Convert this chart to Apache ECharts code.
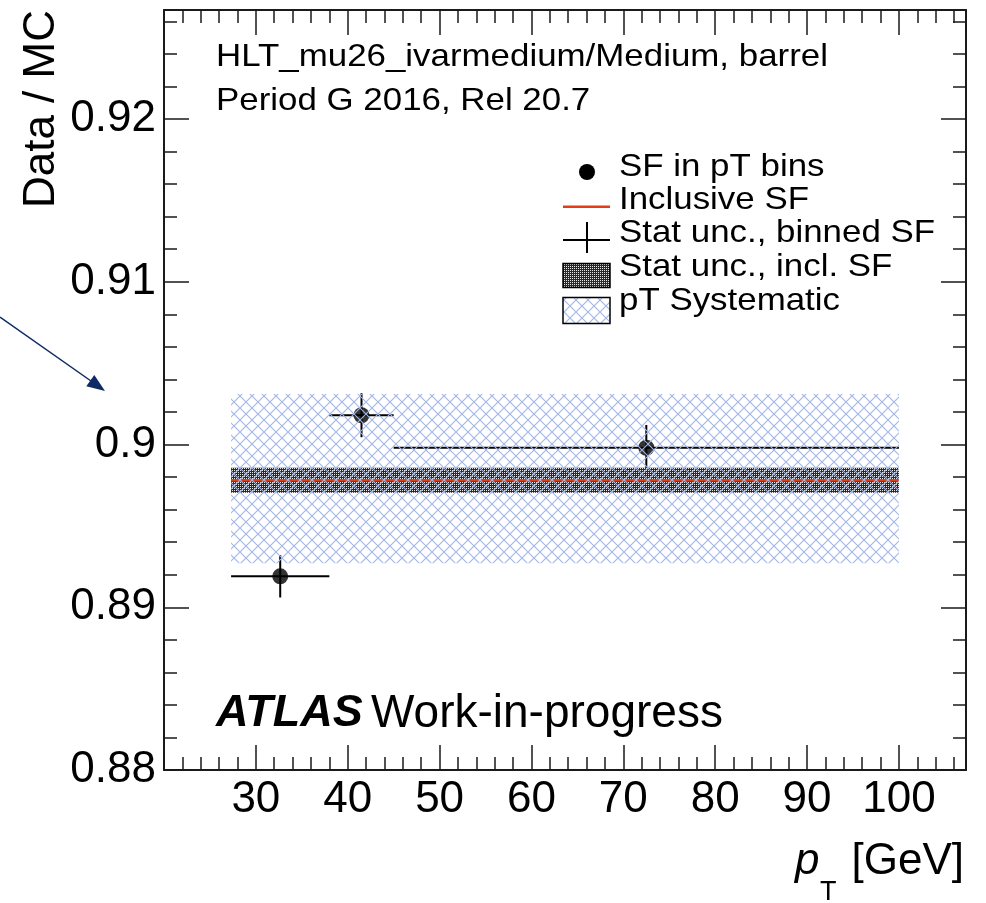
<!DOCTYPE html>
<html>
<head>
<meta charset="utf-8">
<script src="https://cdn.jsdelivr.net/npm/echarts@6/dist/echarts.min.js"></script>
<style>
html,body{margin:0;padding:0;background:#fff;}
#chart{width:986px;height:903px;}
</style>
</head>
<body>
<div id="chart"></div>
<script>
// ---- data ----
const binLow = [27.3, 38, 45];
const binHigh = [38, 45, 100];
const binCenters = [32.65, 41.5, 72.5];
const sfValues = [0.8919, 0.9018, 0.8998];
const sfStatErr = [0.0013, 0.00135, 0.0014];
const inclRange = [27.3, 100];
const inclSF = [0.8978];
const inclStatErr = [0.00077];
const systLow = [0.8927];
const systHigh = [0.9031];
const xTickLabels = ['30','40','50','60','70','80','90','100'];
const yTickLabels = ['0.88','0.89','0.9','0.91','0.92'];
const legendLabels = ['SF in pT bins','Inclusive SF','Stat unc., binned SF','Stat unc., incl. SF','pT Systematic'];

const X_MIN = 20, X_MAX = 107.3, Y_MIN = 0.88, Y_MAX = 0.9267;
const FONT = '"Liberation Sans", Arial, Helvetica, sans-serif';

// ---- fill patterns ----
function hatchCanvas(bg){
  const c = document.createElement('canvas'); c.width = 12; c.height = 12;
  const g = c.getContext('2d');
  if (bg){ g.fillStyle = bg; g.fillRect(0,0,12,12); }
  g.strokeStyle = '#a2b6e6'; g.lineWidth = 1.1;
  g.beginPath(); g.moveTo(-1,-1); g.lineTo(13,13); g.moveTo(-1,13); g.lineTo(13,-1); g.stroke();
  return c;
}
function statCanvas(){
  const c = document.createElement('canvas'); c.width = 2; c.height = 2;
  const g = c.getContext('2d');
  g.fillStyle = '#262a33'; g.fillRect(0,0,2,2);
  g.fillStyle = '#e8e8e8'; g.fillRect(0,0,1,1);
  return c;
}
const hatchPattern = {image: hatchCanvas(null), repeat: 'repeat'};
const hatchPatternWhite = {image: hatchCanvas('#ffffff'), repeat: 'repeat'};
const statPattern = {image: statCanvas(), repeat: 'repeat'};

// ---- axes ----
function xLabel(v){
  const r = Math.round(v);
  if (Math.abs(v - r) > 1e-6) return '';
  const s = String(r);
  return xTickLabels.indexOf(s) >= 0 ? s : '';
}
function yLabel(v){
  const r = Math.round(v * 100) / 100;
  if (Math.abs(v - r) > 1e-7) return '';
  const s = String(r);
  return yTickLabels.indexOf(s) >= 0 ? s : '';
}
function makeX(position, interval, len, labels, line){
  return {
    type: 'value', min: X_MIN, max: X_MAX, interval: interval, position: position,
    axisLine: {show: line, onZero: false, lineStyle: {color: '#1a1a1a', width: 2}},
    axisTick: {show: true, inside: true, length: len, lineStyle: {color: '#1a1a1a', width: 1.5}},
    axisLabel: {show: labels, formatter: xLabel, fontSize: 44, color: '#000', fontFamily: FONT, margin: 8,
      showMinLabel: false, showMaxLabel: false},
    splitLine: {show: false}
  };
}
function makeY(position, interval, len, labels, line){
  return {
    type: 'value', min: Y_MIN, max: Y_MAX, interval: interval, position: position,
    axisLine: {show: line, onZero: false, lineStyle: {color: '#1a1a1a', width: 2}},
    axisTick: {show: true, inside: true, length: len, lineStyle: {color: '#1a1a1a', width: 1.5}},
    axisLabel: {show: labels, formatter: yLabel, fontSize: 44, color: '#000', fontFamily: FONT, margin: 8,
      showMinLabel: true, showMaxLabel: false},
    splitLine: {show: false}
  };
}

// ---- render helpers ----
function bandRender(fill){
  return function(params, api){
    const p1 = api.coord([api.value(0), api.value(3)]);
    const p2 = api.coord([api.value(1), api.value(2)]);
    return {type: 'rect', shape: {x: p1[0], y: p1[1], width: p2[0] - p1[0], height: p2[1] - p1[1]},
      style: {fill: fill, stroke: null}};
  };
}
function errRender(params, api){
  const xc = api.value(0), yc = api.value(1);
  const a = api.coord([api.value(2), yc]);
  const b = api.coord([api.value(3), yc]);
  const c = api.coord([xc, api.value(4)]);
  const d = api.coord([xc, api.value(5)]);
  const st = {stroke: '#000', lineWidth: 2};
  return {type: 'group', children: [
    {type: 'line', shape: {x1: a[0], y1: a[1], x2: b[0], y2: b[1]}, style: st},
    {type: 'line', shape: {x1: c[0], y1: c[1], x2: d[0], y2: d[1]}, style: st}
  ]};
}

const errData = binCenters.map((c, i) => [c, sfValues[i], binLow[i], binHigh[i], sfValues[i] - sfStatErr[i], sfValues[i] + sfStatErr[i]]);
const pointData = binCenters.map((c, i) => [c, sfValues[i]]);

// ---- annotation texts ----
function txt(text, x, y, size, opts){
  opts = opts || {};
  return {type: 'text', x: x, y: y, scaleX: opts.scaleX || 1, rotation: opts.rotation || 0, z: 100,
    style: {text: text, fontSize: size, fontFamily: FONT, fontWeight: opts.weight || 'normal',
      fontStyle: opts.style || 'normal', fill: '#000', align: opts.align || 'left', verticalAlign: 'middle'}};
}
const legendY = [167, 200.5, 233, 267.5, 301];
const graphics = [
  txt('HLT_mu26_ivarmedium/Medium, barrel', 216, 57, 32, {scaleX: 1.09}),
  txt('Period G 2016, Rel 20.7', 216, 101, 32, {scaleX: 1.09}),
  txt('ATLAS', 216, 714, 45, {weight: 'bold', style: 'italic'}),
  txt('Work-in-progress', 371, 714, 46),
  txt('Data / MC', 42, 10, 44, {rotation: Math.PI / 2, align: 'right'}),
  txt('p', 795, 862, 44, {style: 'italic'}),
  txt('T', 820, 893, 27),
  txt('[GeV]', 964, 862, 44, {align: 'right'}),
  // legend symbols
  {type: 'circle', shape: {cx: 587, cy: legendY[0] + 5, r: 8}, style: {fill: '#000'}, z: 100},
  {type: 'line', shape: {x1: 563, y1: 206.7, x2: 610, y2: 206.7}, style: {stroke: '#e33d17', lineWidth: 2.5}, z: 100},
  {type: 'line', shape: {x1: 563, y1: 240, x2: 610, y2: 240}, style: {stroke: '#000', lineWidth: 2}, z: 100},
  {type: 'line', shape: {x1: 587, y1: 222, x2: 587, y2: 253}, style: {stroke: '#000', lineWidth: 2}, z: 100},
  {type: 'rect', shape: {x: 563, y: 263.5, width: 47, height: 24}, style: {fill: statPattern, stroke: '#000', lineWidth: 1.5}, z: 100},
  {type: 'rect', shape: {x: 563, y: 297.5, width: 47, height: 26}, style: {fill: hatchPatternWhite, stroke: '#000', lineWidth: 1.5}, z: 100},
  // arrow annotation
  {type: 'line', shape: {x1: 0, y1: 317, x2: 91, y2: 381}, style: {stroke: '#0c2a63', lineWidth: 1.5}, z: 100},
  {type: 'polygon', shape: {points: [[105, 391], [86.3, 386.3], [94.3, 374.9]]}, style: {fill: '#0c2a63'}, z: 100}
];
legendLabels.forEach((t, i) => graphics.push(txt(t, 619, legendY[i], 32, {scaleX: 1.09})));

const chart = echarts.init(document.getElementById('chart'), null, {renderer: 'canvas'});
chart.setOption({
  animation: false,
  backgroundColor: '#ffffff',
  grid: {left: 164, top: 10, width: 802, height: 760, containLabel: false},
  xAxis: [
    makeX('bottom', 10, 25, true, true),
    makeX('bottom', 2, 13, false, false),
    makeX('top', 10, 25, false, true),
    makeX('top', 2, 13, false, false)
  ],
  yAxis: [
    makeY('left', 0.01, 25, true, true),
    makeY('left', 0.002, 13, false, false),
    makeY('right', 0.01, 25, false, true),
    makeY('right', 0.002, 13, false, false)
  ],
  series: [
    {type: 'custom', name: 'Stat unc., binned SF', renderItem: errRender, data: errData, z: 2,
      encode: {x: 0, y: 1}, clip: true},
    {type: 'scatter', name: 'SF in pT bins', data: pointData, symbol: 'circle', symbolSize: 16,
      itemStyle: {color: '#000'}, z: 3},
    {type: 'custom', name: 'Stat unc., incl. SF', renderItem: bandRender(statPattern),
      data: [[inclRange[0], inclRange[1], inclSF[0] - inclStatErr[0], inclSF[0] + inclStatErr[0]]], z: 4,
      encode: {x: [0, 1], y: [2, 3]}, clip: true},
    {type: 'line', name: 'Inclusive SF', data: [[inclRange[0], inclSF[0]], [inclRange[1], inclSF[0]]],
      symbol: 'none', lineStyle: {color: '#e33d17', width: 2.5}, z: 5},
    {type: 'custom', name: 'pT Systematic', renderItem: bandRender(hatchPattern),
      data: [[inclRange[0], inclRange[1], systLow[0], systHigh[0]]], z: 6,
      encode: {x: [0, 1], y: [2, 3]}, clip: true}
  ],
  graphic: graphics
});
</script>
</body>
</html>
